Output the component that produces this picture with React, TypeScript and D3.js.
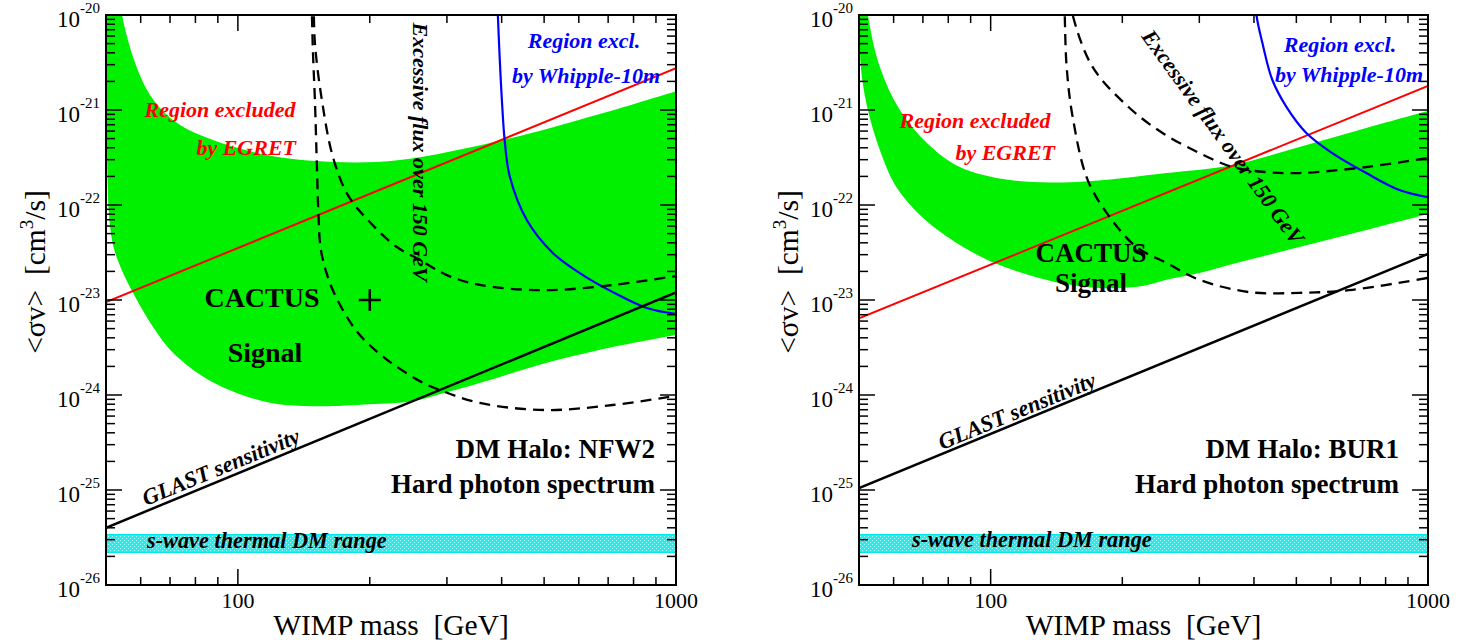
import React from "react";
import * as d3 from "d3";

type Pt = [number, number];

// ---------- shared axes ----------
const massDomain: [number, number] = [50, 1000];
const sigmaDomain: [number, number] = [1e-26, 1e-20];
const xLabeledTicks = [100, 1000];
const yTickExponents = [-26, -25, -24, -23, -22, -21, -20];
const thermalRange: [number, number] = [2.2e-26, 3.4e-26];

// ---------- left panel: NFW2 ----------
const nfwBandUpper: Pt[] = [
  [53, 2.2e-20], [54.4, 1e-20], [56.1, 5.46e-21], [58.5, 2.98e-21], [62.0, 1.63e-21],
  [66.4, 1.05e-21], [73.8, 6.95e-22], [87.7, 4.83e-22], [116.5, 3.36e-22],
  [164.8, 2.84e-22], [234.3, 2.98e-22], [402.6, 4.83e-22], [670, 9.08e-22], [1000, 1.58e-21],
];
const nfwBandLower: Pt[] = [
  [50.1, 2.2e-20], [50.26, 3.8e-22], [50.8, 7.85e-23], [51.6, 4.28e-23], [52.4, 3.2e-23],
  [55, 1.82e-23], [60, 8.5e-24], [65, 4.68e-24], [70, 3.0e-24], [80, 1.77e-24],
  [90, 1.28e-24], [100, 1.04e-24], [120, 8.2e-25], [150, 7.6e-25], [200, 7.98e-25],
  [250, 8.6e-25], [300, 1.07e-24], [400, 1.57e-24], [500, 2.14e-24], [700, 3.12e-24],
  [1000, 4.28e-24],
];
const nfwEgret: Pt[] = [[50, 9.5e-24], [1000, 2.75e-21]];
const nfwGlast: Pt[] = [[50, 4.0e-26], [1000, 1.2e-23]];
const nfwFluxSteep: Pt[] = [
  [147.3, 1.5e-20], [148.3, 4.28e-21], [149.9, 1.27e-21], [151.5, 2.51e-22], [152.7, 8.24e-23],
  [154.7, 3.36e-23], [162.2, 1.51e-23], [173.6, 7.85e-24], [189.8, 4.28e-24],
  [216.5, 2.45e-24], [260.2, 1.4e-24], [289, 1.13e-24], [356.6, 8.24e-25], [503, 6.95e-25],
  [717.5, 7.85e-25], [1000, 9.8e-25],
];
const nfwFluxHigh: Pt[] = [
  [148.9, 1.5e-20], [149.9, 5.07e-21], [155.5, 1.27e-21], [164.8, 3.2e-22], [178.3, 1.27e-22],
  [200, 6.62e-23], [230.6, 3.61e-23], [260.2, 2.64e-23], [300, 1.83e-23], [356.6, 1.44e-23],
  [503, 1.27e-23], [717.5, 1.44e-23], [1000, 1.79e-23],
];
const nfwWhipple: Pt[] = [
  [391, 1.5e-20], [392.1, 1e-20], [400.5, 1.27e-21], [406.9, 4.5e-22], [417.7, 1.97e-22],
  [456.5, 6.95e-23], [523.3, 3.13e-23], [603, 1.92e-23], [717.5, 1.21e-23],
  [857.6, 8.24e-24], [1000, 7.13e-24],
];
const nfwCactusPoint: Pt = [200, 1e-23];

// ---------- right panel: BUR1 ----------
const burBandUpper: Pt[] = [
  [51.5, 2.2e-20], [52.4, 1e-20], [55.8, 2.84e-21], [62.0, 1.0e-21], [71.5, 4.5e-22],
  [85.0, 2.51e-22], [110.6, 1.83e-22], [157.3, 1.75e-22], [252.4, 2.17e-22],
  [357.2, 2.64e-22], [508, 4.08e-22], [722.5, 6.47e-22], [1000, 9.75e-22],
];
const burBandLower: Pt[] = [
  [50.05, 2.2e-20], [50.5, 2.84e-21], [52.4, 1.0e-21], [55.8, 3.79e-22], [60.4, 1.63e-22],
  [67.1, 8.86e-23], [75.7, 5.46e-23], [90.6, 3.2e-23], [107.7, 2.22e-23], [140.1, 1.55e-23],
  [177.5, 1.34e-23], [199.2, 1.34e-23], [222.5, 1.4e-23], [252.4, 1.63e-23], [300.2, 1.92e-23],
  [357.2, 2.39e-23], [508, 3.61e-23], [722.5, 5.46e-23], [1000, 8.04e-23],
];
const burEgret: Pt[] = [[50, 6.4e-24], [1000, 1.79e-21]];
const burGlast: Pt[] = [[50, 1.05e-25], [1000, 3.05e-23]];
const burFluxSteep: Pt[] = [
  [147.3, 1.5e-20], [147.7, 1e-20], [149.2, 2.84e-21], [154, 8.44e-22], [166.7, 1.83e-22],
  [187.1, 7.48e-23], [215.6, 3.61e-23], [252.4, 2.45e-23], [300.2, 1.63e-23],
  [390.5, 1.21e-23], [508, 1.19e-23], [660.5, 1.27e-23], [1000, 1.71e-23],
];
const burFluxHigh: Pt[] = [
  [152, 1.5e-20], [154, 1e-20], [171, 2.84e-21], [207.8, 1.05e-21], [247.2, 5.73e-22],
  [300.2, 3.52e-22], [357.2, 2.51e-22], [427, 2.22e-22], [508, 2.17e-22],
  [722.5, 2.51e-22], [1000, 3.13e-22],
];
const burWhipple: Pt[] = [
  [404, 1.5e-20], [405.3, 1e-20], [418.2, 5.07e-21], [440.7, 2.07e-21], [474.5, 1.08e-21],
  [527, 5.73e-22], [604, 3.52e-22], [722.5, 2.17e-22], [859.5, 1.44e-22], [1000, 1.21e-22],
];

const FONT = "'Liberation Serif', 'Times New Roman', Times, serif";
const GREEN = "#00f000";

type Label = { text: string; x: number; y: number; anchor?: string; rotate?: number; size?: number };

type PanelCfg = {
  id: string;
  left: number;
  right: number;
  bandUpper: Pt[];
  bandLower: Pt[];
  egret: Pt[];
  glast: Pt[];
  fluxSteep: Pt[];
  fluxHigh: Pt[];
  whipple: Pt[];
  marker?: Pt;
  halo: string;
  red1: Label; red2: Label;
  blue1: Label; blue2: Label;
  flux: Label;
  cactus: Label; signal: Label;
  glastLabel: Label;
  haloPos: { x: number; y1: number; y2: number };
  swave: Label;
};

const panels: PanelCfg[] = [
  {
    id: "nfw", left: 106, right: 676,
    bandUpper: nfwBandUpper, bandLower: nfwBandLower, egret: nfwEgret, glast: nfwGlast,
    fluxSteep: nfwFluxSteep, fluxHigh: nfwFluxHigh, whipple: nfwWhipple, marker: nfwCactusPoint,
    halo: "DM Halo: NFW2",
    red1: { text: "Region excluded", x: 220, y: 117, anchor: "middle" },
    red2: { text: "by EGRET", x: 296, y: 155, anchor: "end" },
    blue1: { text: "Region excl.", x: 584, y: 48, anchor: "middle" },
    blue2: { text: "by Whipple-10m", x: 660, y: 83, anchor: "end" },
    flux: { text: "Excessive flux over 150 GeV", x: 420, y: 152, anchor: "middle", rotate: 90 },
    cactus: { text: "CACTUS", x: 262, y: 307, anchor: "middle", size: 28 },
    signal: { text: "Signal", x: 265, y: 362, anchor: "middle", size: 28 },
    glastLabel: { text: "GLAST sensitivity", x: 146, y: 506, anchor: "start", rotate: -22.4 },
    haloPos: { x: 655, y1: 458, y2: 493 },
    swave: { text: "s-wave thermal DM range", x: 147, y: 548, anchor: "start" },
  },
  {
    id: "bur", left: 859, right: 1428,
    bandUpper: burBandUpper, bandLower: burBandLower, egret: burEgret, glast: burGlast,
    fluxSteep: burFluxSteep, fluxHigh: burFluxHigh, whipple: burWhipple,
    halo: "DM Halo: BUR1",
    red1: { text: "Region excluded", x: 975, y: 128, anchor: "middle" },
    red2: { text: "by EGRET", x: 1055, y: 160, anchor: "end" },
    blue1: { text: "Region excl.", x: 1340, y: 52, anchor: "middle" },
    blue2: { text: "by Whipple-10m", x: 1423, y: 82, anchor: "end" },
    flux: { text: "Excessive flux over 150 GeV", x: 1223, y: 137, anchor: "middle", rotate: 54 },
    cactus: { text: "CACTUS", x: 1091, y: 262, anchor: "middle", size: 27 },
    signal: { text: "Signal", x: 1091, y: 292, anchor: "middle", size: 27 },
    glastLabel: { text: "GLAST sensitivity", x: 942, y: 450, anchor: "start", rotate: -22.4 },
    haloPos: { x: 1399, y1: 458, y2: 493 },
    swave: { text: "s-wave thermal DM range", x: 912, y: 547, anchor: "start" },
  },
];

const TOP = 15;
const BOTTOM = 585;

function isMajor(v: number) {
  const l = Math.log10(v);
  return Math.abs(l - Math.round(l)) < 1e-6;
}

function Panel({ cfg }: { cfg: PanelCfg }) {
  const x = d3.scaleLog().domain(massDomain).range([cfg.left, cfg.right]);
  const y = d3.scaleLog().domain(sigmaDomain).range([BOTTOM, TOP]);
  const curve = d3.curveCatmullRom.alpha(0.5);
  const line = d3.line<Pt>().x((d) => x(d[0])).y((d) => y(d[1])).curve(curve);
  const straight = d3.line<Pt>().x((d) => x(d[0])).y((d) => y(d[1]));

  const bandPath =
    (line(cfg.bandUpper) || "") +
    (line([...cfg.bandLower].reverse()) || "").replace(/^M/, "L") +
    "Z";

  const xt = x.ticks().filter((v) => v > massDomain[0] + 1e-9 && v < massDomain[1] - 1e-9);
  const yt = y.ticks().filter((v) => v > sigmaDomain[0] * 1.0001 && v < sigmaDomain[1] * 0.9999);
  const clipId = `clip-${cfg.id}`;
  const patId = `pat-${cfg.id}`;
  const yLabelX = cfg.left - 61;
  const midX = (cfg.left + cfg.right) / 2;

  const labelEl = (l: Label, props: any) => (
    <text
      x={l.rotate ? 0 : l.x}
      y={l.rotate ? 0 : l.y}
      transform={l.rotate ? `translate(${l.x},${l.y}) rotate(${l.rotate})` : undefined}
      textAnchor={l.anchor || "start"}
      fontSize={l.size}
      {...props}
    >
      {l.text}
    </text>
  );

  return (
    <g>
      <defs>
        <clipPath id={clipId}>
          <rect x={cfg.left} y={TOP} width={cfg.right - cfg.left} height={BOTTOM - TOP} />
        </clipPath>
        <pattern id={patId} width={4} height={4} patternUnits="userSpaceOnUse">
          <rect width={4} height={4} fill="#22eeee" />
          <rect width={1} height={1} fill="#b8ffff" />
          <rect x={2} y={2} width={1} height={1} fill="#b8ffff" />
        </pattern>
      </defs>

      <g clipPath={`url(#${clipId})`}>
        <path d={bandPath} fill={GREEN} stroke="none" />
        <rect
          x={cfg.left}
          y={y(thermalRange[1])}
          width={cfg.right - cfg.left}
          height={y(thermalRange[0]) - y(thermalRange[1])}
          fill={`url(#${patId})`}
          stroke="#00e8e8"
          strokeWidth={1}
        />
        <path d={straight(cfg.egret) || ""} fill="none" stroke="#ff0000" strokeWidth={2} />
        <path d={line(cfg.whipple) || ""} fill="none" stroke="#0000ff" strokeWidth={2.2} />
        <path d={line(cfg.fluxSteep) || ""} fill="none" stroke="#000" strokeWidth={2.3} strokeDasharray="11,7" />
        <path d={line(cfg.fluxHigh) || ""} fill="none" stroke="#000" strokeWidth={2.3} strokeDasharray="11,7" />
        <path d={straight(cfg.glast) || ""} fill="none" stroke="#000" strokeWidth={2.5} />
        {cfg.marker && (
          <g stroke="#000" strokeWidth={2.5}>
            <line x1={x(cfg.marker[0]) - 11} x2={x(cfg.marker[0]) + 11} y1={y(cfg.marker[1])} y2={y(cfg.marker[1])} />
            <line x1={x(cfg.marker[0])} x2={x(cfg.marker[0])} y1={y(cfg.marker[1]) - 11} y2={y(cfg.marker[1]) + 11} />
          </g>
        )}
      </g>

      {/* text labels */}
      <g fontFamily={FONT} fontWeight="bold" fontStyle="italic" fontSize={22}>
        {labelEl(cfg.red1, { fill: "#ff0000" })}
        {labelEl(cfg.red2, { fill: "#ff0000" })}
        {labelEl(cfg.blue1, { fill: "#0000ff" })}
        {labelEl(cfg.blue2, { fill: "#0000ff" })}
        {labelEl(cfg.flux, { fill: "#000", dominantBaseline: "central" })}
        {labelEl(cfg.glastLabel, { fill: "#000", fontSize: 22.5 })}
        {labelEl(cfg.swave, { fill: "#000", fontSize: 22.3 })}
      </g>
      <g fontFamily={FONT} fontWeight="bold" fill="#000">
        {labelEl(cfg.cactus, {})}
        {labelEl(cfg.signal, {})}
        <text x={cfg.haloPos.x} y={cfg.haloPos.y1} textAnchor="end" fontSize={27}>{cfg.halo}</text>
        <text x={cfg.haloPos.x} y={cfg.haloPos.y2} textAnchor="end" fontSize={27}>Hard photon spectrum</text>
      </g>

      {/* ticks */}
      <g stroke="#000" strokeWidth={1.5}>
        {xt.map((v) => {
          const len = isMajor(v) ? 16 : 8;
          return (
            <g key={`x${v}`}>
              <line x1={x(v)} x2={x(v)} y1={BOTTOM} y2={BOTTOM - len} />
              <line x1={x(v)} x2={x(v)} y1={TOP} y2={TOP + len} />
            </g>
          );
        })}
        {yt.map((v) => {
          const len = isMajor(v) ? 16 : 9;
          return (
            <g key={`y${v}`}>
              <line x1={cfg.left} x2={cfg.left + len} y1={y(v)} y2={y(v)} />
              <line x1={cfg.right} x2={cfg.right - len} y1={y(v)} y2={y(v)} />
            </g>
          );
        })}
      </g>
      <rect x={cfg.left} y={TOP} width={cfg.right - cfg.left} height={BOTTOM - TOP} fill="none" stroke="#000" strokeWidth={2} />

      {/* tick labels */}
      <g fontFamily={FONT} fill="#000">
        {xLabeledTicks.map((v) => (
          <text key={`xl${v}`} x={x(v)} y={608} textAnchor="middle" fontSize={22}>{v}</text>
        ))}
        {yTickExponents.map((e) => {
          const yy = y(Math.pow(10, e));
          return (
            <g key={`yl${e}`}>
              <text x={cfg.left - 26} y={yy + 12} textAnchor="end" fontSize={23}>10</text>
              <text x={cfg.left - 26} y={yy - 2} textAnchor="start" fontSize={15}>{`-${-e}`}</text>
            </g>
          );
        })}
        <text x={midX} y={635} textAnchor="middle" fontSize={29.5} style={{ whiteSpace: "pre" }}>
          {"WIMP mass  [GeV]"}
        </text>
        <text
          transform={`translate(${yLabelX},272) rotate(-90)`}
          textAnchor="middle"
          fontSize={29.5}
          style={{ whiteSpace: "pre" }}
        >
          {"<σv>  [cm"}
          <tspan dy={-12} fontSize={19}>3</tspan>
          <tspan dy={12}>/s]</tspan>
        </text>
      </g>
    </g>
  );
}

export default function App() {
  return (
    <svg
      width={1468}
      height={640}
      viewBox="0 0 1468 640"
      style={{ position: "absolute", left: 0, top: 0, background: "#fff" }}
    >
      <rect width={1468} height={640} fill="#fff" />
      {panels.map((p) => (
        <Panel key={p.id} cfg={p} />
      ))}
    </svg>
  );
}
